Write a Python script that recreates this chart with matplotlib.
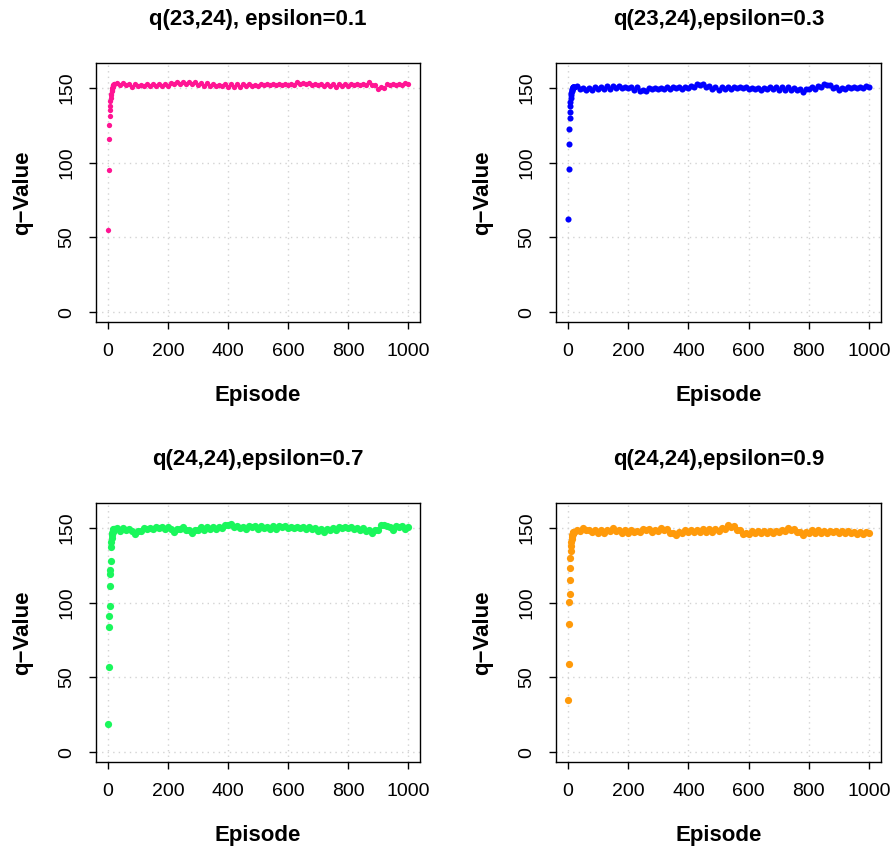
import matplotlib
matplotlib.use('Agg')
import matplotlib.pyplot as plt

plt.rcParams['font.family'] = ['Liberation Sans', 'DejaVu Sans']

# early episodes (1..20), one value per episode
early_pink = [55, 95, 116, 125, 131, 135, 138, 141, 143, 145, 146, 147.5, 148.5,
              149.5, 150.3, 151, 151.5, 152, 152.3, 152.5]
early_blue = [62.5, 96, 112.5, 122.5, 129.5, 134, 137.5, 140.5, 143, 145, 146.5,
              147.5, 148.5, 149.2, 149.8, 150.2, 150.4, 150.5, 150.4, 150.3]
early_green = [19, 57, 83.5, 91, 98, 111, 119, 122, 128, 137, 140.5, 143, 145,
               146.3, 147.3, 148, 148.5, 148.8, 149, 149.1]
early_orange = [35, 58.7, 85.5, 100.5, 105.5, 115, 123, 129.5, 134.7, 138, 140.5,
                142.5, 144, 145, 145.8, 146.3, 146.6, 146.8, 147, 147.2]

# plateau, episodes 30..1000 every 10
late_episodes = list(range(30, 1001, 10))
late_pink = [153.0, 151.8, 153.2, 151.6,
             152.2, 150.7, 152.4, 150.9, 151.9,
             151.0, 152.6, 151.0, 152.2, 151.2, 152.4, 150.9, 152.3, 151.0,
             153.2, 152.2, 154.0, 152.4, 154.0, 152.5, 153.4, 152.6, 153.4,
             151.5, 153.1, 151.3, 153.0, 151.2, 152.7, 151.0,
             151.8, 150.8, 152.2, 150.7, 152.3, 150.5, 152.1, 150.7,
             152.3, 150.8, 152.5, 150.9, 151.8, 151.2, 152.2, 151.4,
             152.5, 151.4, 152.3, 151.5, 152.4, 151.7, 152.5, 151.8, 152.6, 151.9,
             153.5, 152.5, 153.3, 152.4, 153.1, 151.6, 152.5, 151.7,
             152.3, 150.9, 152.5, 150.8, 152.2, 150.7, 152.4, 150.9, 152.5, 150.8,
             152.4, 151.5, 152.3, 151.7, 152.6, 152.0, 153.6, 151.8,
             151.6, 149.2, 150.1, 149.8,
             152.2, 151.6, 152.4, 151.8, 152.5, 151.7, 153.2, 152.4]
late_blue = [150.9, 149.0, 149.6, 148.2,
             149.6, 148.4, 150.6, 149.1, 150.7,
             149.2, 150.8, 149.3, 151.0, 149.5, 151.2, 149.7, 150.6, 149.8,
             150.3, 148.6, 150.1, 148.0, 148.2, 147.7, 149.8, 149.0, 149.9,
             149.2, 150.0, 148.8, 150.6, 149.3, 150.5, 149.5,
             150.3, 149.0, 150.2, 149.6, 151.2, 150.6, 152.6, 151.9,
             152.3, 150.2, 150.8, 149.0, 150.6, 148.7, 150.4, 148.9,
             150.5, 148.8, 150.4, 149.6, 150.3, 149.5, 150.2, 149.3, 150.0, 149.2,
             149.9, 148.7, 149.8, 149.0, 150.5, 148.8, 150.4, 148.7,
             150.3, 148.6, 150.2, 148.4, 150.0, 148.2, 148.9, 147.3, 149.3, 148.9,
             150.7, 149.1, 150.9, 150.3, 152.1, 151.4, 151.8, 149.8,
             150.4, 148.6, 149.4, 148.8,
             150.5, 149.7, 150.4, 149.6, 150.2, 149.4, 151.0, 150.4]
late_green = [149.4, 148.0, 149.8, 148.5,
              149.0, 147.8, 145.9, 147.8, 147.7,
              149.8, 148.9, 150.0, 149.3, 150.4, 149.4, 150.6, 148.8, 150.5,
              149.0, 147.3, 149.2, 148.8, 150.4, 148.4, 148.2, 146.2, 148.6,
              148.6, 150.3, 148.7, 150.5, 148.9, 150.7, 149.0,
              150.6, 150.0, 151.9, 151.4, 152.2, 150.2, 150.8, 150.0,
              150.7, 149.0, 150.9, 150.2, 150.8, 149.1, 151.1, 149.4,
              150.1, 149.3, 151.0, 149.2, 150.9, 150.4, 151.2, 149.5, 150.2, 149.6,
              150.3, 149.7, 150.4, 148.8, 150.5, 148.9, 149.6, 148.0,
              148.8, 147.2, 149.0, 148.3, 150.0, 148.4, 150.2, 149.5, 150.3, 149.4,
              150.1, 149.3, 150.0, 148.3, 149.9, 148.0, 148.4, 146.3,
              148.1, 148.4, 151.4, 152.0,
              150.8, 150.4, 148.6, 151.0, 150.4, 150.8, 149.0, 150.4]
late_orange = [148.2, 147.9, 149.9, 148.2,
               148.6, 146.8, 148.4, 146.6, 148.2,
               146.7, 148.5, 147.8, 149.6, 147.9, 148.4, 146.7, 148.3, 146.6,
               148.2, 147.3, 147.9, 147.2, 149.2, 148.4, 148.8, 146.9, 148.5,
               147.8, 149.7, 148.7, 148.8, 146.4, 146.6, 144.9,
               147.0, 146.7, 148.5, 146.9, 148.6, 147.0, 148.7, 147.1,
               148.8, 147.2, 148.9, 147.3, 149.0, 147.4, 149.4, 149.0,
               151.4, 150.6, 150.8, 148.3, 148.2, 145.8, 146.5, 145.9, 147.9, 146.4,
               148.0, 146.3, 147.9, 146.2, 147.8, 146.1, 147.7, 146.9,
               148.6, 148.0, 149.8, 148.4, 148.8, 146.8, 147.2, 145.1, 147.0, 146.6,
               148.2, 146.5, 148.1, 146.4, 148.0, 146.3, 147.9, 147.2,
               148.0, 146.4, 147.9, 146.3,
               147.8, 146.2, 146.9, 145.4, 147.1, 145.5, 147.0, 146.3]

titles = ['q(23,24), epsilon=0.1', 'q(23,24),epsilon=0.3',
          'q(24,24),epsilon=0.7', 'q(24,24),epsilon=0.9']
colors = ['#FF1493', '#0000FF', '#1AF75C', '#FF9A0A']
x_ticks = [0, 200, 400, 600, 800, 1000]
y_ticks = [0, 50, 100, 150]

W, H = 896, 852
fig = plt.figure(figsize=(W / 100, H / 100), dpi=100)

# axes boxes in pixels: left, top, right, bottom
boxes = [(96, 63, 420, 322), (556, 63, 881, 322),
         (96, 503, 420, 762), (556, 503, 881, 762)]
sizes = [3.8, 4.4, 5.2, 5.2]
earlies = [early_pink, early_blue, early_green, early_orange]
lates = [late_pink, late_blue, late_green, late_orange]

for i in range(4):
    l, t, r, b = boxes[i]
    ax = fig.add_axes([l / W, 1 - b / H, (r - l) / W, (b - t) / H])
    ep = list(range(1, len(earlies[i]) + 1)) + late_episodes
    q = earlies[i] + lates[i]
    ax.plot(ep, q, 'o', color=colors[i], ms=sizes[i], mew=0, zorder=3)
    ax.set_xlim(-40, 1040)
    ax.set_ylim(-6.4, 166.4)
    ax.set_xticks(x_ticks)
    ax.set_yticks(y_ticks)
    ax.grid(True, color='lightgray', linestyle=(0, (1, 3)), linewidth=1)
    ax.set_axisbelow(True)
    for s in ax.spines.values():
        s.set_linewidth(1.0)
    ax.tick_params(direction='out', length=5, width=1, labelsize=14, pad=10)
    plt.setp(ax.get_yticklabels(), rotation=90, va='center')
    ax.set_title(titles[i], fontsize=16, fontweight='bold', pad=27)
    ax.set_xlabel('Episode', fontsize=16, fontweight='bold')
    ax.set_ylabel('q\u2212Value', fontsize=16, fontweight='bold')
    ax.xaxis.set_label_coords(0.5, -0.243)
    ax.yaxis.set_label_coords(-0.194, 0.5)

fig.savefig('out.png', dpi=100)
